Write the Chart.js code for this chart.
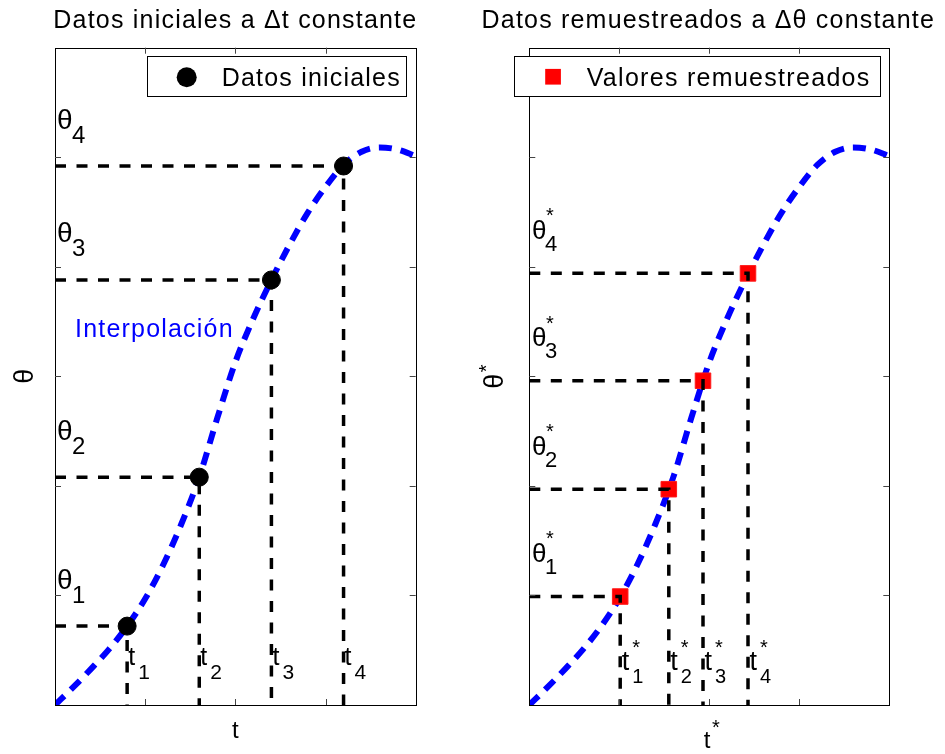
<!DOCTYPE html>
<html>
<head>
<meta charset="utf-8">
<script src="https://cdn.jsdelivr.net/npm/chart.js@4.4.1/dist/chart.umd.min.js"></script>
<style>
html,body{margin:0;padding:0;background:#fff;}
canvas{position:absolute;top:0;}
</style>
</head>
<body>
<canvas id="c1" width="472" height="754" style="left:0px"></canvas>
<canvas id="c2" width="473" height="754" style="left:472px"></canvas>
<script>
// ---- data ----
const xTicks = [0, 1, 2, 3, 4];
const yTicks = [0, 1, 2, 3, 4, 5, 6];
const curveT     = [0, 0.2, 0.4, 0.6, 0.8, 1.0, 1.2, 1.4, 1.6, 1.8, 2.0, 2.2, 2.4, 2.6, 2.8, 3.0, 3.2, 3.4, 3.6, 3.8, 4.0];
const curveTheta = [0, 0.16, 0.33, 0.51, 0.72, 0.97, 1.28, 1.65, 2.08, 2.62, 3.13, 3.53, 3.88, 4.20, 4.49, 4.73, 4.93, 5.05, 5.09, 5.07, 5.01];
const tInit      = [0.8, 1.6, 2.4, 3.2];
const thetaInit  = [0.72, 2.08, 3.88, 4.92];
const tResamp    = [1.01, 1.55, 1.93, 2.43];
const thetaResamp= [0.99, 1.97, 2.96, 3.94];
const subs = ['1', '2', '3', '4'];
const titles = ['Datos iniciales a \u0394t constante', 'Datos remuestreados a \u0394\u03B8 constante'];
const legendLabels = ['Datos iniciales', 'Valores remuestreados'];
const curveLabel = 'Interpolaci\u00F3n';

const FONT = '"Liberation Sans", Arial, Helvetica, sans-serif';

function txt(ctx, s, x, y, size, opts) {
  opts = opts || {};
  ctx.save();
  ctx.font = size + 'px ' + FONT;
  ctx.fillStyle = opts.color || '#000';
  ctx.textAlign = opts.align || 'left';
  ctx.textBaseline = 'alphabetic';
  if (opts.ls) { try { ctx.letterSpacing = opts.ls + 'px'; } catch (e) {} }
  ctx.fillText(s, x, y);
  ctx.restore();
}

function drawFrame(chart) {
  const ctx = chart.ctx, a = chart.chartArea, x = chart.scales.x, y = chart.scales.y;
  ctx.save();
  ctx.strokeStyle = '#000';
  ctx.lineWidth = 1;
  ctx.strokeRect(Math.round(a.left) + 0.5, Math.round(a.top) + 0.5, Math.round(a.right - a.left), Math.round(a.bottom - a.top));
  ctx.strokeStyle = '#444';
  ctx.beginPath();
  xTicks.slice(1, -1).forEach(v => {
    const px = Math.round(x.getPixelForValue(v)) + 0.5;
    ctx.moveTo(px, a.bottom); ctx.lineTo(px, a.bottom - 6);
    ctx.moveTo(px, a.top); ctx.lineTo(px, a.top + 6);
  });
  yTicks.slice(1, -1).forEach(v => {
    const py = Math.round(y.getPixelForValue(v)) + 0.5;
    ctx.moveTo(a.left, py); ctx.lineTo(a.left + 6, py);
    ctx.moveTo(a.right, py); ctx.lineTo(a.right - 6, py);
  });
  ctx.stroke();
  ctx.restore();
}

function datasetsFor(ts, ths, marker) {
  const ds = [];
  ds.push({
    data: curveT.map((t, i) => ({x: t, y: curveTheta[i]})),
    borderColor: '#0000ff', borderWidth: 6, borderDash: [13, 9], borderCapStyle: 'butt',
    pointRadius: 0, cubicInterpolationMode: 'monotone', fill: false, order: 3
  });
  ds.push({
    data: ts.map((t, i) => ({x: t, y: ths[i]})),
    showLine: false,
    pointRadius: marker === 'circle' ? 9 : 11,
    pointStyle: marker === 'circle' ? 'circle' : 'rect',
    pointBackgroundColor: marker === 'circle' ? '#000' : '#ff0000',
    pointBorderColor: marker === 'circle' ? '#000' : '#ff1a1a',
    pointBorderWidth: 1,
    order: 2
  });
  ts.forEach((t, i) => {
    ds.push({
      data: [{x: 0, y: ths[i]}, {x: t, y: ths[i]}, {x: t, y: 0}],
      borderColor: '#000', borderWidth: 3.5, borderDash: [11, 10.5], borderCapStyle: 'butt',
      pointRadius: 0, tension: 0, fill: false, order: 1
    });
  });
  return ds;
}

function baseOptions(pad) {
  return {
    responsive: false, animation: false, devicePixelRatio: 1,
    layout: {padding: pad},
    plugins: {legend: {display: false}, tooltip: {enabled: false}, title: {display: false}},
    scales: {
      x: {type: 'linear', min: xTicks[0], max: xTicks[xTicks.length - 1], display: false},
      y: {type: 'linear', min: yTicks[0], max: yTicks[yTicks.length - 1], display: false}
    },
    events: []
  };
}

// ---- left chart ----
const leftDecor = {
  id: 'leftDecor',
  afterDraw(chart) {
    const ctx = chart.ctx, a = chart.chartArea, x = chart.scales.x, y = chart.scales.y;
    drawFrame(chart);
    const cx = (a.left + a.right) / 2;
    txt(ctx, titles[0], cx, 28, 25, {align: 'center', ls: 1.2});
    // theta labels
    thetaInit.forEach((th, i) => {
      const X = x.getPixelForValue(0) + 2, Y = y.getPixelForValue(th) - 37.5;
      txt(ctx, '\u03B8', X, Y, 28);
      txt(ctx, subs[i], X + 15, Y + 14, 24);
    });
    // t labels
    tInit.forEach((t, i) => {
      const X = x.getPixelForValue(t) + 1, Y = y.getPixelForValue(0) - 40;
      txt(ctx, 't', X, Y, 25);
      txt(ctx, subs[i], X + 10, Y + 14, 21);
    });
    // curve label
    txt(ctx, curveLabel, x.getPixelForValue(0.222), y.getPixelForValue(3.362), 25, {color: '#0000ff', ls: 1.2});
    // axis labels
    txt(ctx, 't', cx, 738, 24, {align: 'center'});
    ctx.save();
    ctx.translate(33, (a.top + a.bottom) / 2);
    ctx.rotate(-Math.PI / 2);
    txt(ctx, '\u03B8', 0, 0, 27, {align: 'center'});
    ctx.restore();
    // legend
    ctx.save();
    ctx.fillStyle = '#fff';
    ctx.fillRect(147, 56, 260, 41);
    ctx.strokeStyle = '#000'; ctx.lineWidth = 1;
    ctx.strokeRect(147.5, 56.5, 259, 40);
    ctx.fillStyle = '#000';
    ctx.beginPath(); ctx.arc(186.7, 77.3, 10, 0, Math.PI * 2); ctx.fill();
    ctx.restore();
    txt(ctx, legendLabels[0], 221.7, 86, 25, {ls: 1.2});
  }
};

new Chart(document.getElementById('c1'), {
  type: 'line',
  data: {datasets: datasetsFor(tInit, thetaInit, 'circle')},
  options: baseOptions({left: 55, right: 56.3, top: 47.7, bottom: 49}),
  plugins: [leftDecor]
});

// ---- right chart ----
const rightDecor = {
  id: 'rightDecor',
  afterDraw(chart) {
    const ctx = chart.ctx, a = chart.chartArea, x = chart.scales.x, y = chart.scales.y;
    drawFrame(chart);
    const cx = (a.left + a.right) / 2;
    txt(ctx, titles[1], cx - 1, 28, 25, {align: 'center', ls: 1.2});
    thetaResamp.forEach((th, i) => {
      const X = x.getPixelForValue(0) + 2.7, Y = y.getPixelForValue(th) - 34.5;
      txt(ctx, '\u03B8', X, Y, 26);
      txt(ctx, '*', X + 14, Y - 16.7, 20);
      txt(ctx, subs[i], X + 13, Y + 12, 22);
    });
    tResamp.forEach((t, i) => {
      const X = x.getPixelForValue(t) + 1.5, Y = y.getPixelForValue(0) - 35;
      txt(ctx, 't', X, Y, 27);
      txt(ctx, '*', X + 10.5, Y - 16, 20);
      txt(ctx, subs[i], X + 10.5, Y + 13, 20);
    });
    // axis labels
    txt(ctx, 't', cx - 5.6, 748, 24);
    txt(ctx, '*', cx + 2.7, 734, 20);
    ctx.save();
    ctx.translate(31, (a.top + a.bottom) / 2 + 5);
    ctx.rotate(-Math.PI / 2);
    txt(ctx, '\u03B8', 0, 0, 27, {align: 'center'});
    txt(ctx, '*', 9, -10, 20);
    ctx.restore();
    // legend
    ctx.save();
    ctx.fillStyle = '#fff';
    ctx.fillRect(42.3, 56, 367, 41);
    ctx.strokeStyle = '#000'; ctx.lineWidth = 1;
    ctx.strokeRect(42.5, 56.5, 366, 40);
    ctx.fillStyle = '#ff0000';
    ctx.fillRect(73.2, 68.9, 15.7, 15.7);
    ctx.restore();
    txt(ctx, legendLabels[1], 114.7, 86, 25, {ls: 1.3});
  }
};

new Chart(document.getElementById('c2'), {
  type: 'line',
  data: {datasets: datasetsFor(tResamp, thetaResamp, 'rect')},
  options: baseOptions({left: 57.3, right: 55.7, top: 47.7, bottom: 49}),
  plugins: [rightDecor]
});
</script>
</body>
</html>
